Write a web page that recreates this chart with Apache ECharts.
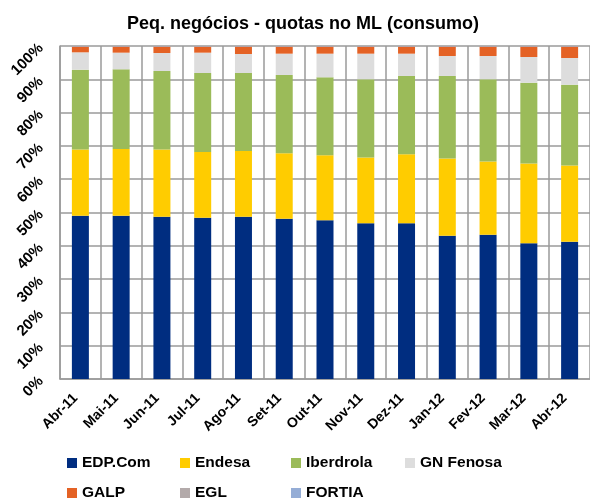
<!DOCTYPE html>
<html><head><meta charset="utf-8">
<script src="https://cdn.jsdelivr.net/npm/echarts@6/dist/echarts.min.js"></script>
<style>html,body{margin:0;padding:0;background:#fff}#c{width:590px;height:500px}</style>
</head><body><div id="c"></div>
<script>
var categories = ['Abr-11','Mai-11','Jun-11','Jul-11','Ago-11','Set-11','Out-11','Nov-11','Dez-11','Jan-12','Fev-12','Mar-12','Abr-12'];
var seriesNames = ['EDP.Com','Endesa','Iberdrola','GN Fenosa','GALP','EGL','FORTIA'];
var edp       = [49.0,49.0,48.7,48.4,48.7,48.1,47.7,46.8,46.8,43.0,43.3,40.8,41.2];
var endesa    = [19.9,20.1,20.2,19.8,19.8,19.7,19.5,19.7,20.7,23.2,22.0,23.9,22.9];
var iberdrola = [24.0,23.9,23.6,23.7,23.4,23.5,23.4,23.5,23.5,24.8,24.7,24.3,24.3];
var gnFenosa  = [5.2,5.0,5.4,6.1,5.7,6.4,7.1,7.7,6.7,6.0,7.0,7.7,8.0];
var galp      = [1.7,1.8,1.9,1.8,2.2,2.1,2.1,2.1,2.1,2.8,2.8,3.1,3.4];
var egl       = [0.1,0.1,0.1,0.1,0.1,0.1,0.1,0.1,0.1,0.1,0.1,0.1,0.1];
var fortia    = [0.1,0.1,0.1,0.1,0.1,0.1,0.1,0.1,0.1,0.1,0.1,0.1,0.1];
var yTicks = [0,10,20,30,40,50,60,70,80,90,100];

var colors = ['#002D80','#FFCC00','#9BBB59','#DDDDDD','#E46225','#B3AAAA','#95ADD6'];
var allData = [edp,endesa,iberdrola,gnFenosa,galp,egl,fortia];
var FONT = '"Liberation Sans",Arial,sans-serif';

var chart = echarts.init(document.getElementById('c'));
var series = seriesNames.map(function(n,i){
  return {name:n,type:'bar',stack:'t',barWidth:17,data:allData[i],
    itemStyle:{color:colors[i]},emphasis:{disabled:true}};
});
var legendPos = [[62,450],[175,450],[286,450],[400,450],[62,480],[175,480],[286,480]];
var legends = seriesNames.map(function(n,i){
  return {data:[n],left:legendPos[i][0],top:legendPos[i][1],itemWidth:10,itemHeight:10,itemGap:5,
    icon:'rect',textStyle:{fontFamily:FONT,fontWeight:'bold',fontSize:15.5,color:'#000'}};
});
chart.setOption({
  animation:false,
  color:colors,
  title:{text:'Peq. negócios - quotas no ML (consumo)',left:298,textAlign:'center',top:10,
    textStyle:{fontFamily:FONT,fontWeight:'bold',fontSize:18,color:'#000'}},
  legend:legends,
  grid:{left:60,top:46,width:537,height:333},
  xAxis:{type:'category',data:categories,
    axisLine:{show:true,lineStyle:{color:'#9a9a9a',width:1.5}},
    axisTick:{show:false},
    splitLine:{show:true,interval:0,lineStyle:{color:'#9a9a9a',width:1.5}},
    axisLabel:{rotate:45,interval:0,margin:12,padding:[0,7,0,0],fontFamily:FONT,fontWeight:'bold',fontSize:14,color:'#000'}},
  yAxis:{type:'value',min:yTicks[0],max:yTicks[yTicks.length-1],interval:10,
    axisLine:{show:true,lineStyle:{color:'#9a9a9a',width:1.5}},
    axisTick:{show:false},
    splitLine:{show:true,lineStyle:{color:'#9a9a9a',width:1.5}},
    axisLabel:{rotate:45,margin:19,formatter:'{value}%',fontFamily:FONT,fontWeight:'bold',fontSize:15,color:'#000'}},
  series:series
});
</script></body></html>
